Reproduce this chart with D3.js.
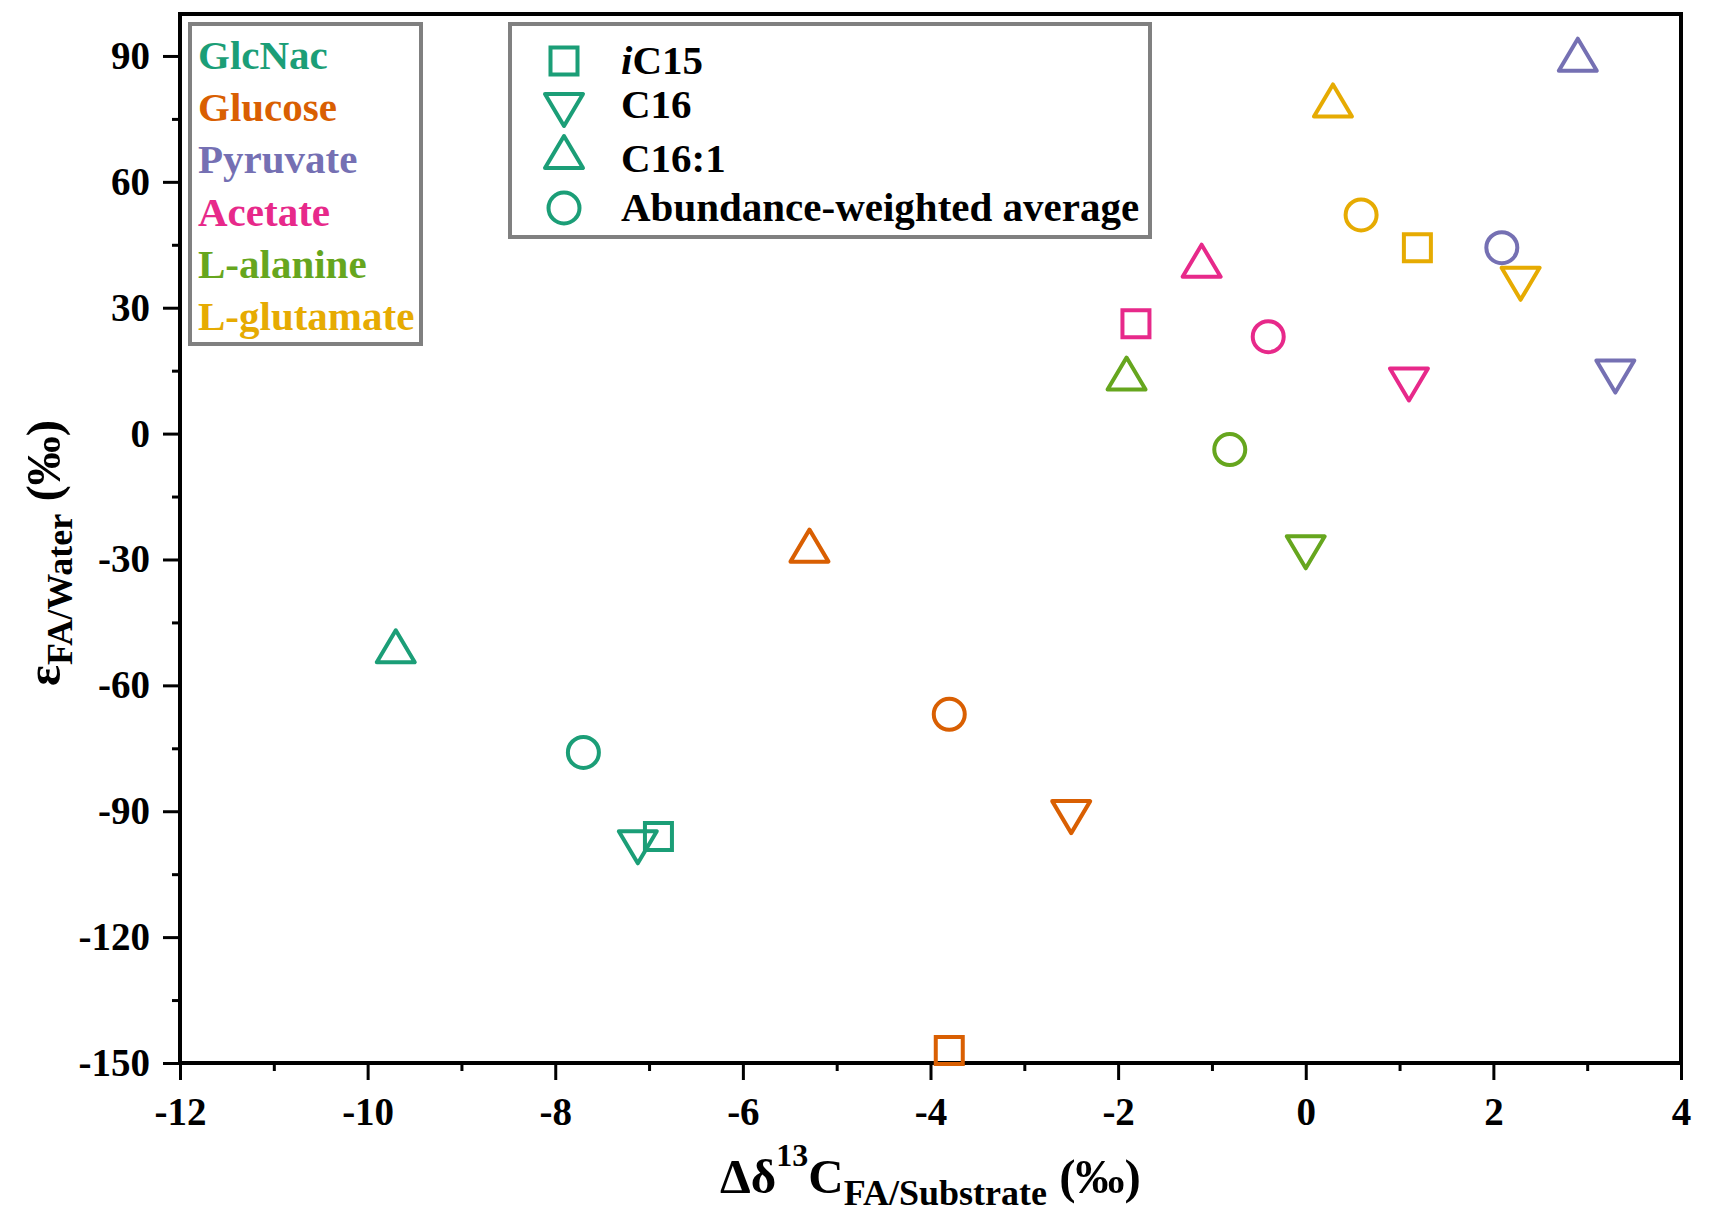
<!DOCTYPE html>
<html>
<head>
<meta charset="utf-8">
<script src="https://cdn.jsdelivr.net/npm/d3@7"></script>
<style>
  body { margin: 0; background: #fff; }
  text { font-family: "Liberation Serif", "Times New Roman", serif; font-weight: bold; }
</style>
</head>
<body>
<div id="scatter"></div>
<script>
// Data
let substrates = ["GlcNac", "Glucose", "Pyruvate", "Acetate", "L-alanine", "L-glutamate"];
let fattyAcids = ["iC15", "C16", "C16:1", "Abundance-weighted average"];
let shapes = ["square", "down", "up", "circle"];
let colors = ["#1b9e77", "#d95f02", "#7570b3", "#e7298a", "#66a61e", "#e6ab02"];

// x = Δδ13C (FA/substrate), one value per fatty acid in fattyAcids order (null = not plotted)
let glcnacX    = [-6.90, -7.12, -9.70, -7.70];
let glucoseX   = [-3.80, -2.50, -5.29, -3.80];
let pyruvateX  = [null,   3.30,  2.90,  2.09];
let acetateX   = [-1.81,  1.10, -1.11, -0.40];
let alanineX   = [null,   0.00, -1.91, -0.81];
let glutamateX = [ 1.19,  2.29,  0.29,  0.59];

// y = ε FA/water (‰)
let glcnacY    = [-96.0, -98.6, -50.7, -76.0];
let glucoseY   = [-147.0, -91.4, -26.7, -66.9];
let pyruvateY  = [null,   13.6,  90.3,  44.3];
let acetateY   = [26.2,   11.7,  41.2,  23.1];
let alanineY   = [null,  -28.3,  14.3,  -3.8];
let glutamateY = [44.3,   35.7,  79.4,  52.1];

let xTicks = [-12, -10, -8, -6, -4, -2, 0, 2, 4];
let xMinor = [-11, -9, -7, -5, -3, -1, 1, 3];
let yTicks = [-150, -120, -90, -60, -30, 0, 30, 60, 90];
let yMinor = [-135, -105, -75, -45, -15, 15, 45, 75];

let allX = [glcnacX, glucoseX, pyruvateX, acetateX, alanineX, glutamateX];
let allY = [glcnacY, glucoseY, pyruvateY, acetateY, alanineY, glutamateY];

// build point list
let points = [];
substrates.forEach(function(s, i) {
  fattyAcids.forEach(function(fa, j) {
    if (allX[i][j] !== null) {
      points.push({ substrate: s, fa: fa, shape: shapes[j], color: colors[i], x: allX[i][j], y: allY[i][j] });
    }
  });
});

// Define variables
let svgWidth = 1709;
let svgHeight = 1219;

let margin = {
  top : 14,
  right : 28,
  bottom : 156,
  left : 180
};

let width = svgWidth - margin.left - margin.right;
let height = svgHeight - margin.top - margin.bottom;

let svg = d3.select("#scatter")
  .append("svg")
  .attr("width", svgWidth)
  .attr("height", svgHeight);

let chartGroup = svg.append("g")
  .attr("transform", `translate(${margin.left}, ${margin.top})`);

let xScale = d3.scaleLinear().domain([-12, 4]).range([0, width]);
let yScale = d3.scaleLinear().domain([-150, 100]).range([height, 0]);

// symbol path builder (centred on the bounding box, like Origin)
function symbolPath(shape) {
  let w = 19, h = 16, s = 13.5;
  if (shape === "square") return `M${-s},${-s}H${s}V${s}H${-s}Z`;
  if (shape === "up") return `M0,${-h}L${w},${h}L${-w},${h}Z`;
  if (shape === "down") return `M0,${h}L${w},${-h}L${-w},${-h}Z`;
  return null;
}

function drawSymbol(g, shape, color) {
  if (shape === "circle") {
    g.append("circle").attr("r", 15.5);
  } else {
    g.append("path").attr("d", symbolPath(shape))
      .attr("stroke-linejoin", shape === "square" ? "miter" : "round");
  }
  g.selectAll("circle, path")
    .attr("fill", "none")
    .attr("stroke", color)
    .attr("stroke-width", 4);
}

// axes
let leftAxis = d3.axisLeft(yScale).tickValues(yTicks).tickSize(17).tickPadding(13)
  .tickSizeOuter(0).tickFormat(d => String(d));
let leftMinor = d3.axisLeft(yScale).tickValues(yMinor).tickSize(8).tickSizeOuter(0).tickFormat("");
let bottomAxis = d3.axisBottom(xScale).tickValues(xTicks).tickSize(17).tickPadding(17)
  .tickSizeOuter(0).tickFormat(d => String(d));
let bottomMinor = d3.axisBottom(xScale).tickValues(xMinor).tickSize(8).tickSizeOuter(0).tickFormat("");

let yAxis = chartGroup.append("g").call(leftAxis);
chartGroup.append("g").call(leftMinor);
let xAxis = chartGroup.append("g").attr("transform", `translate(0, ${height})`).call(bottomAxis);
chartGroup.append("g").attr("transform", `translate(0, ${height})`).call(bottomMinor);

chartGroup.selectAll(".domain").remove();
chartGroup.selectAll(".tick line").attr("stroke", "#000").attr("stroke-width", 3);
chartGroup.selectAll(".tick text").attr("font-size", 39).attr("fill", "#000");

// frame
chartGroup.append("rect")
  .attr("width", width)
  .attr("height", height)
  .attr("fill", "none")
  .attr("stroke", "#000")
  .attr("stroke-width", 4);

// points
chartGroup.append("g").selectAll("g")
  .data(points)
  .enter()
  .append("g")
  .attr("transform", d => `translate(${xScale(d.x)}, ${yScale(d.y)})`)
  .each(function(d) { drawSymbol(d3.select(this), d.shape, d.color); });

// x axis label
let xLabel = svg.append("text")
  .attr("x", margin.left + width / 2)
  .attr("y", 1193)
  .attr("text-anchor", "middle")
  .attr("font-size", 49);
xLabel.append("tspan").text("Δδ");
xLabel.append("tspan").attr("dy", -27).attr("font-size", 32).text("13");
xLabel.append("tspan").attr("dy", 27).text("C");
xLabel.append("tspan").attr("dy", 12).attr("font-size", 36).text("FA/Substrate");
xLabel.append("tspan").attr("dy", -12).text(" (‰)");

// y axis label
let yLabel = svg.append("text")
  .attr("transform", "translate(60, 553) rotate(-90)")
  .attr("text-anchor", "middle")
  .attr("font-size", 49);
yLabel.append("tspan").text("ε");
yLabel.append("tspan").attr("dy", 12).attr("font-size", 36).text("FA/Water");
yLabel.append("tspan").attr("dy", -12).text(" (‰)");

// substrate legend
let legend1 = svg.append("g");
legend1.append("rect")
  .attr("x", 190).attr("y", 24).attr("width", 231).attr("height", 320)
  .attr("fill", "#fff").attr("stroke", "#808080").attr("stroke-width", 4);
legend1.selectAll("text")
  .data(substrates)
  .enter()
  .append("text")
  .attr("x", 198)
  .attr("y", (d, i) => 69 + i * 52.2)
  .attr("font-size", 41)
  .attr("fill", (d, i) => colors[i])
  .text(d => d);

// fatty acid legend
let symbolRows = [61, 110, 152, 208];
let textRows = [74, 118, 172, 221];
let legend2 = svg.append("g");
legend2.append("rect")
  .attr("x", 510).attr("y", 24).attr("width", 640).attr("height", 213)
  .attr("fill", "#fff").attr("stroke", "#808080").attr("stroke-width", 4);
fattyAcids.forEach(function(fa, j) {
  let g = legend2.append("g").attr("transform", `translate(564, ${symbolRows[j]})`);
  drawSymbol(g, shapes[j], colors[0]);
  let t = legend2.append("text")
    .attr("x", 621)
    .attr("y", textRows[j])
    .attr("font-size", 41)
    .attr("fill", "#000");
  if (fa === "iC15") {
    t.append("tspan").attr("font-style", "italic").text("i");
    t.append("tspan").text("C15");
  } else {
    t.text(fa);
  }
});
</script>
</body>
</html>
